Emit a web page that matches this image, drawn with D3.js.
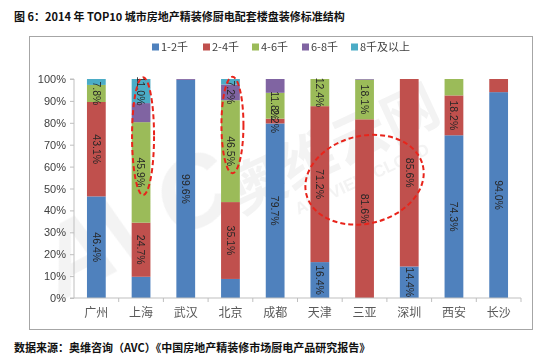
<!DOCTYPE html>
<html><head><meta charset="utf-8">
<script src="https://cdn.jsdelivr.net/npm/d3@7/dist/d3.min.js"></script>
<style>
body{margin:0;background:#fff;}
svg{display:block;}
</style></head>
<body><svg id="c" width="550" height="361"></svg>
<script>
const title = "图 6：2014 年 TOP10 城市房地产精装修厨电配套楼盘装修标准结构";
const source = "数据来源：奥维咨询（AVC）《中国房地产精装修市场厨电产品研究报告》";
const cities = ["广州","上海","武汉","北京","成都","天津","三亚","深圳","西安","长沙"];
const seriesNames = ["1-2千","2-4千","4-6千","6-8千","8千及以上"];
const colors = ["#4F81BD","#C0504D","#9BBB59","#8064A2","#4BACC6"];
const s12 = [46.4, 9.7, 99.6, 8.7, 79.7, 16.4, 0, 14.4, 74.3, 94.0];
const s24 = [43.1, 24.7, 0, 35.1, 2.2, 71.2, 81.6, 85.6, 18.2, 6.0];
const s46 = [7.8, 45.9, 0, 46.5, 11.8, 12.4, 18.1, 0, 7.5, 0];
const s68 = [0, 8.7, 0.4, 7.2, 6.3, 0, 0.3, 0, 0, 0];
const s8p = [2.7, 11.0, 0, 2.5, 0, 0, 0, 0, 0, 0];
// which segments carry a data label (series index per city)
const labelled = [[0,1,2],[1,2,4],[0],[1,2,3],[0,1,2],[0,1,2],[1,2],[0,1],[0,1],[0]];
const yTicks = [0,10,20,30,40,50,60,70,80,90,100];

const svg = d3.select("#c");
const W = 550, H = 361;
const m = {left:74, right:29, top:79, bottom:63};
const x = d3.scaleBand().domain(cities).range([m.left, W - m.right]).paddingInner(0.58).paddingOuter(0.29);
const xb = d3.scaleBand().domain(cities).range([m.left, W - m.right]);
const y = d3.scaleLinear().domain([0,100]).range([H - m.bottom, m.top]);

// title
svg.append("text").attr("x",14).attr("y",21).text(title)
  .attr("font-family","'Noto Sans CJK SC', 'Noto Sans', sans-serif").attr("font-weight","bold")
  .attr("font-size",11).attr("fill","#111");
// chart frame
svg.append("rect").attr("x",29.5).attr("y",36.5).attr("width",503).attr("height",293)
  .attr("fill","#fff").attr("stroke","#a6a6a6").attr("stroke-width",1);

// watermark
const wm = svg.append("g").attr("opacity",0.12).attr("pointer-events","none");
wm.append("text").attr("transform",`translate(${xb("上海")+ xb.bandwidth()*0.7},${y(20)}) rotate(-28)`)
  .attr("text-anchor","middle").attr("font-family","'Liberation Sans',sans-serif").attr("font-weight","bold")
  .attr("font-style","italic").attr("font-size",100).attr("fill","#9a9a9a").text("AVC");
wm.append("text").attr("transform",`translate(${xb("天津")+ xb.bandwidth()},${y(60)}) rotate(-25)`)
  .attr("text-anchor","middle").attr("font-family","'Noto Sans CJK SC',sans-serif").attr("font-weight","bold")
  .attr("font-size",56).attr("fill","#9a9a9a").text("奥维云网");
wm.append("text").attr("transform",`translate(${xb("三亚")+ xb.bandwidth()/2},${y(52)}) rotate(-25)`)
  .attr("text-anchor","middle").attr("font-family","'Liberation Sans',sans-serif").attr("font-weight","bold")
  .attr("font-size",17).attr("fill","#9a9a9a").text("ALL VIEW CLOUD");

// stacked data
const rows = cities.map((c,i)=>({city:c, v:[s12[i],s24[i],s46[i],s68[i],s8p[i]]}));
const table = rows.map(r=>{const o={city:r.city}; seriesNames.forEach((s,j)=>o[s]=r.v[j]); return o;});
const stack = d3.stack().keys(seriesNames)(table);

const g = svg.append("g");
stack.forEach((layer,j)=>{
  g.selectAll(null).data(layer).join("rect")
    .attr("x",d=>x(d.data.city)).attr("width",x.bandwidth())
    .attr("y",d=>y(d[1])).attr("height",d=>Math.max(0,y(d[0])-y(d[1])))
    .attr("fill",colors[j]);
});

// labels
const lg = svg.append("g");
cities.forEach((c,i)=>{
  labelled[i].forEach(j=>{
    const seg = stack[j][i];
    const val = seg[1]-seg[0];
    const cx = x(c)+x.bandwidth()/2, cy = y((seg[0]+seg[1])/2);
    lg.append("text").attr("transform",`translate(${cx},${cy}) rotate(90)`)
      .attr("text-anchor","middle").attr("dy","0.35em")
      .attr("font-family","'Liberation Sans', Arial, sans-serif").attr("font-size",10.5)
      .attr("fill","#262626").text(val.toFixed(1)+"%");
  });
});

// axes
const yAxis = d3.axisLeft(y).tickValues(yTicks).tickFormat(d=>d+"%").tickSize(4).tickPadding(4);
const ya = svg.append("g").attr("transform",`translate(${m.left},0)`).call(yAxis);
ya.selectAll("path,line").attr("stroke","#bfbfbf");
ya.select(".domain").attr("d",`M-4,${y(100)}H0V${y(0)}H-4`);
ya.selectAll("text").attr("font-family","'Liberation Sans', Arial, sans-serif").attr("font-size",11).attr("fill","#404040");

const xAxis = d3.axisBottom(xb).tickSize(0).tickPadding(10);
const xa = svg.append("g").attr("transform",`translate(0,${y(0)})`).call(xAxis);
xa.select(".domain").attr("stroke","#bfbfbf").attr("d",`M${m.left},0H${W-m.right}`);
xa.selectAll("text").attr("font-family","'Noto Sans CJK SC', sans-serif").attr("font-size",12).attr("fill","#595959");
xa.selectAll(".tk").data(cities).join("line").attr("class","tk")
  .attr("x1",d=>xb(d)+xb.bandwidth()).attr("x2",d=>xb(d)+xb.bandwidth())
  .attr("y1",0).attr("y2",4).attr("stroke","#bfbfbf");

// legend
const legX = [152,203,252,302,351];
const leg = svg.append("g");
seriesNames.forEach((s,j)=>{
  leg.append("rect").attr("x",legX[j]).attr("y",43.5).attr("width",7).attr("height",7).attr("fill",colors[j]);
  leg.append("text").attr("x",legX[j]+9).attr("y",51).text(s)
    .attr("font-family","'Noto Sans CJK SC', sans-serif").attr("font-size",11).attr("fill","#404040");
});

// red dashed annotation ellipses
const ann = svg.append("g").attr("fill","none").attr("stroke","#E8241B").attr("stroke-width",2).attr("stroke-dasharray","5,3");
function ell(city, yTop, yBot, rx, rot, dx){
  const cx = x(city)+x.bandwidth()/2 + (dx||0);
  const cy = (y(yTop)+y(yBot))/2, ry = (y(yBot)-y(yTop))/2;
  ann.append("ellipse").attr("cx",cx).attr("cy",cy).attr("rx",rx).attr("ry",ry)
    .attr("transform",`rotate(${rot||0},${cx},${cy})`);
}
ell("上海",100.8,47,11,0,2);
ell("北京",101,57,11,0,2);
ell("三亚",74,34,60,-14,0);

// source
svg.append("text").attr("x",14).attr("y",352).text(source)
  .attr("font-family","'Noto Sans CJK SC', 'Noto Sans', sans-serif").attr("font-weight","bold")
  .attr("font-size",11).attr("fill","#111");
</script></body></html>
